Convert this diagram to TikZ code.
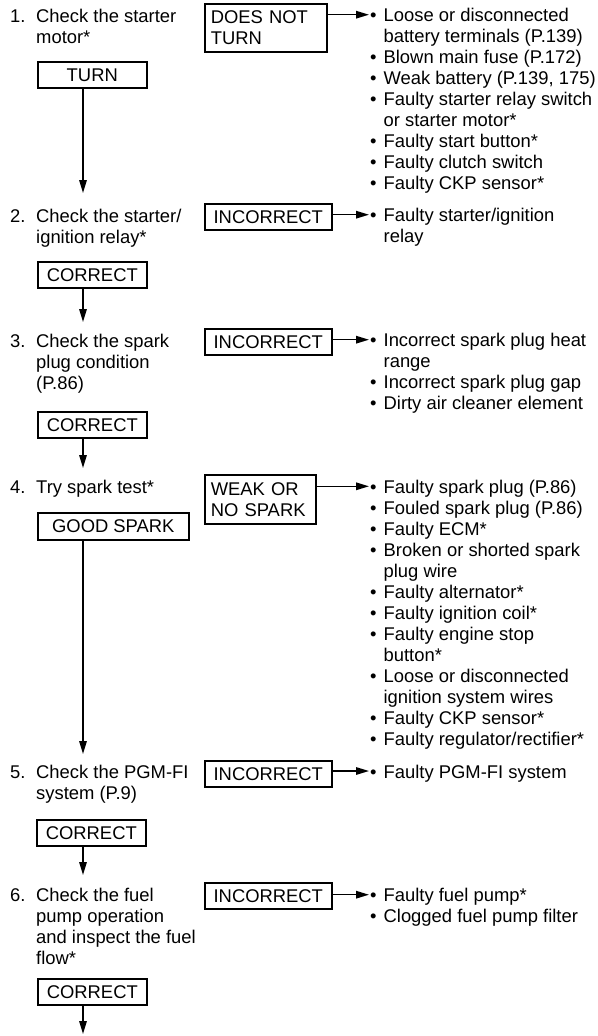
\documentclass[tikz,border=0pt]{standalone}
\usepackage{fontspec}
\setmainfont{Liberation Sans}
\usetikzlibrary{arrows.meta}
\begin{document}
\begin{tikzpicture}[x=1pt,y=-1pt,
  every node/.style={font=\fontsize{18.4}{21}\selectfont, inner sep=0pt, text=black},
  box/.style={draw, line width=1.6pt, anchor=north west, inner sep=0pt, align=center},
  mbox/.style={draw, line width=1.6pt, anchor=north west, inner ysep=0pt, inner xsep=6pt, align=left},
  txt/.style={anchor=base west},
  arr/.style={line width=1.5pt, -{Triangle[length=13pt,width=7.5pt]}},
]
\useasboundingbox (0,0) rectangle (597,1036);

% ---------- left column: steps ----------
\node[txt] (n1) at (10,22.3) {1.};
\node[txt] (s1) at (36,22.3) {\begin{tabular}[t]{@{}l@{}}Check the starter\\motor*\end{tabular}};
\node[box, minimum width=109pt, minimum height=26pt] (turn) at (37,61) {TURN};

\node[txt] (n2) at (10,222.3) {2.};
\node[txt] (s2) at (36,222.3) {\begin{tabular}[t]{@{}l@{}}Check the starter/\\ignition relay*\end{tabular}};
\node[box, minimum width=109pt, minimum height=26pt] (c2) at (37,261) {CORRECT};

\node[txt] (n3) at (10,347.3) {3.};
\node[txt] (s3) at (36,347.3) {\begin{tabular}[t]{@{}l@{}}Check the spark\\plug condition\\(P.86)\end{tabular}};
\node[box, minimum width=109pt, minimum height=26pt] (c3) at (37,411) {CORRECT};

\node[txt] (n4) at (10,493.3) {4.};
\node[txt] (s4) at (36,493.3) {Try spark test*};
\node[box, minimum width=151pt, minimum height=27pt] (good) at (37,512) {GOOD SPARK};

\node[txt] (n5) at (10,778) {5.};
\node[txt] (s5) at (36,778) {\begin{tabular}[t]{@{}l@{}}Check the PGM-FI\\system (P.9)\end{tabular}};
\node[box, minimum width=109pt, minimum height=26pt] (c5) at (36,819) {CORRECT};

\node[txt] (n6) at (10,901.7) {6.};
\node[txt] (s6) at (36,901.7) {\begin{tabular}[t]{@{}l@{}}Check the fuel\\pump operation\\and inspect the fuel\\flow*\end{tabular}};
\node[box, minimum width=109pt, minimum height=26pt] (c6) at (37,978) {CORRECT};

% ---------- vertical arrows ----------
\coordinate (t1) at (83,193);
\coordinate (t2) at (83,322);
\coordinate (t3) at (83,468);
\coordinate (t4) at (83,754);
\coordinate (t5) at (83,875);
\coordinate (t6) at (83,1034);
\draw[arr] (turn.south -| t1) -- (t1);
\draw[arr] (c2.south -| t2) -- (t2);
\draw[arr] (c3.south -| t3) -- (t3);
\draw[arr] (good.south -| t4) -- (t4);
\draw[arr] (c5.south -| t5) -- (t5);
\draw[arr] (c6.south -| t6) -- (t6);

% ---------- right column: result boxes ----------
\node[mbox, text width=110pt, minimum height=48pt] (dnt) at (204,3) {DOES NOT\\TURN};
\node[box, minimum width=127pt, minimum height=26pt] (i2) at (204,203) {INCORRECT};
\node[box, minimum width=127pt, minimum height=26pt] (i3) at (204,328) {INCORRECT};
\node[mbox, text width=99pt, minimum height=49pt] (weak) at (204,474) {WEAK OR\\NO SPARK};
\node[box, minimum width=127pt, minimum height=26pt] (i5) at (204,760) {INCORRECT};
\node[box, minimum width=127pt, minimum height=26pt] (i6) at (204,882) {INCORRECT};

% ---------- cause lists ----------
\node[txt] (l1) at (370,21.7) {\begin{tabular}[t]{@{}l@{\hspace{7pt}}l@{}}
\textbullet & Loose or disconnected\\
 & battery terminals (P.139)\\
\textbullet & Blown main fuse (P.172)\\
\textbullet & Weak battery (P.139, 175)\\
\textbullet & Faulty starter relay switch\\
 & or starter motor*\\
\textbullet & Faulty start button*\\
\textbullet & Faulty clutch switch\\
\textbullet & Faulty CKP sensor*
\end{tabular}};
\node[txt] (l2) at (370,221.7) {\begin{tabular}[t]{@{}l@{\hspace{7pt}}l@{}}
\textbullet & Faulty starter/ignition\\
 & relay
\end{tabular}};
\node[txt] (l3) at (370,346.7) {\begin{tabular}[t]{@{}l@{\hspace{7pt}}l@{}}
\textbullet & Incorrect spark plug heat\\
 & range\\
\textbullet & Incorrect spark plug gap\\
\textbullet & Dirty air cleaner element
\end{tabular}};
\node[txt] (l4) at (370,493.3) {\begin{tabular}[t]{@{}l@{\hspace{7pt}}l@{}}
\textbullet & Faulty spark plug (P.86)\\
\textbullet & Fouled spark plug (P.86)\\
\textbullet & Faulty ECM*\\
\textbullet & Broken or shorted spark\\
 & plug wire\\
\textbullet & Faulty alternator*\\
\textbullet & Faulty ignition coil*\\
\textbullet & Faulty engine stop\\
 & button*\\
\textbullet & Loose or disconnected\\
 & ignition system wires\\
\textbullet & Faulty CKP sensor*\\
\textbullet & Faulty regulator/rectifier*
\end{tabular}};
\node[txt] (l5) at (370,778) {\begin{tabular}[t]{@{}l@{\hspace{7pt}}l@{}}
\textbullet & Faulty PGM-FI system
\end{tabular}};
\node[txt] (l6) at (370,901.7) {\begin{tabular}[t]{@{}l@{\hspace{7pt}}l@{}}
\textbullet & Faulty fuel pump*\\
\textbullet & Clogged fuel pump filter
\end{tabular}};

% ---------- horizontal arrows ----------
\coordinate (h1) at (369,14.7);
\coordinate (h2) at (369,214.7);
\coordinate (h3) at (369,339.7);
\coordinate (h4) at (369,486.3);
\coordinate (h5) at (369,771);
\coordinate (h6) at (369,894.7);
\draw[arr] (dnt.east |- h1) -- (h1);
\draw[arr] (i2.east |- h2) -- (h2);
\draw[arr] (i3.east |- h3) -- (h3);
\draw[arr] (weak.east |- h4) -- (h4);
\draw[arr] (i5.east |- h5) -- (h5);
\draw[arr] (i6.east |- h6) -- (h6);
\end{tikzpicture}
\end{document}
